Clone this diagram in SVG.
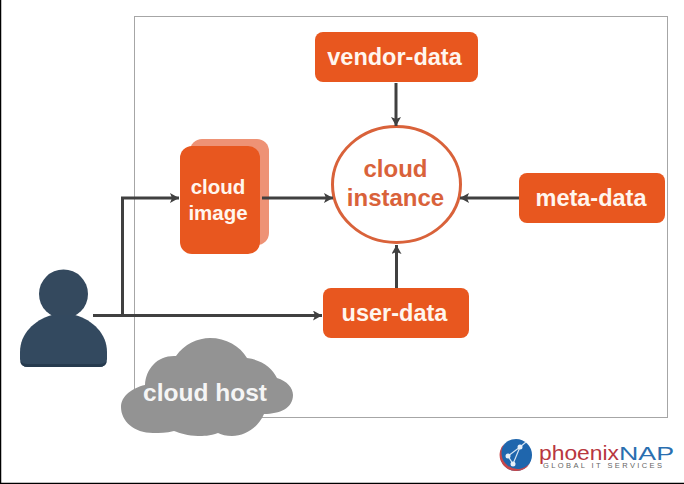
<svg xmlns="http://www.w3.org/2000/svg" width="684" height="484" viewBox="0 0 684 484">
<style>
.box{fill:#e8571f}
.w{fill:#fff6ee;font:bold 23.500px "Liberation Sans",Arial,sans-serif;text-anchor:middle}
.o{fill:#d9623a;font:bold 24px "Liberation Sans",Arial,sans-serif;text-anchor:middle}
.c{fill:none;stroke:#404040;stroke-width:3}
</style>
<defs>
<marker id="a" markerUnits="userSpaceOnUse" markerWidth="10" markerHeight="10" refX="9" refY="5" orient="auto"><path d="M0 0L9 5L0 10L2 5Z" fill="#404040"/></marker>
</defs>
<rect width="684" height="484" fill="#fff"/>
<path d="M0.500 0V483.500H684" fill="none" stroke="#000" stroke-width="1.500"/>
<rect x="134.500" y="16.500" width="533" height="401" fill="#fff" stroke="#a6a6a6"/>
<g id="vendor-data"><rect class="box" x="315" y="32" width="163" height="50" rx="8"/><text class="w" x="394.500" y="64.500">vendor-data</text></g>
<g id="meta-data"><rect class="box" x="519" y="173" width="146" height="50" rx="8"/><text class="w" x="591" y="206">meta-data</text></g>
<g id="user-data"><rect class="box" x="323" y="288" width="146" height="50" rx="8"/><text class="w" x="394.500" y="321">user-data</text></g>
<g id="cloud-instance"><ellipse cx="396.500" cy="184.500" rx="64" ry="58" fill="#fff" stroke="#d9623a" stroke-width="3"/><text class="o" x="395.500" y="177">cloud</text><text class="o" x="395.500" y="206">instance</text></g>
<g id="cloud-image"><rect x="190" y="139" width="79" height="106" rx="12" fill="#ee9275"/><rect class="box" x="180" y="146" width="80" height="108" rx="12"/><text class="w" x="218" y="194" style="font-size:20.500px">cloud</text><text class="w" x="218" y="220" style="font-size:20.500px">image</text></g>
<g id="user"><circle cx="63.500" cy="294" r="24.500" fill="#34495e"/><path d="M20 352C20 334 34 320 52 315H75C93 320 107 334 107 352V359Q107 367 99 367H28Q20 367 20 359Z" fill="#33495f"/><path d="M20.500 361Q21 367 28 367H99Q106 367 106.500 361Q105 364 99 364H28Q22 364 20.500 361Z" fill="#263a4e"/></g>
<g id="cloud-host"><path d="M145 385C146 368 158 355 176 356C184 344 198 338 210 338C226 338 240 346 247 358C262 360 272 368 277 378C287 381 293 388 293 395C293 408 280 414 264 414C258 428 245 436 232 436C226 436 222 435 218 433C210 436 203 436 198 436C188 436 180 433 174 431C166 433 160 433 153 433C134 433 121 421 121 407C121 396 132 388 145 385Z" fill="#939393"/><text class="w" x="205" y="400.500" style="font-size:24.500px;fill:#f5f5f5">cloud host</text></g>
<g id="logo">
<circle cx="516" cy="455" r="16" fill="#1f66ad"/>
<path d="M505 443A16 16 0 0 0 516 471A16 16 0 0 0 530 463A14.500 14.500 0 0 1 505 443Z" fill="#c8474a"/>
<path d="M508 456L520 447L513 464L508 456M520 447L526 442" fill="none" stroke="#d5e4f2" stroke-width="1.200"/>
<circle cx="520" cy="447" r="2.500" fill="#e8f0f8"/><circle cx="508" cy="456" r="2.500" fill="#e8f0f8"/><circle cx="513" cy="464" r="2.500" fill="#e8f0f8"/>
<text x="539" y="460" textLength="80" lengthAdjust="spacingAndGlyphs" style="font:21px 'Liberation Sans',Arial,sans-serif;fill:#b8373f">phoenix</text>
<text x="619" y="460" textLength="55" lengthAdjust="spacingAndGlyphs" style="font:18px 'Liberation Sans',Arial,sans-serif;fill:#2a6fb0">NAP</text>
<text x="543" y="468" textLength="119" style="font:7.500px 'Liberation Sans',Arial,sans-serif;fill:#666">GLOBAL IT SERVICES</text>
</g>
<g id="connectors">
<path class="c" d="M396 83V126" marker-end="url(#a)"/>
<path class="c" d="M262 198H333" marker-end="url(#a)"/>
<path class="c" d="M519 198H460" marker-end="url(#a)"/>
<path class="c" d="M396.500 288V245" marker-end="url(#a)"/>
<path class="c" d="M93 315.500H322" marker-end="url(#a)"/>
<path class="c" d="M122.500 315.500V198H179" marker-end="url(#a)"/>
</g>
</svg>
